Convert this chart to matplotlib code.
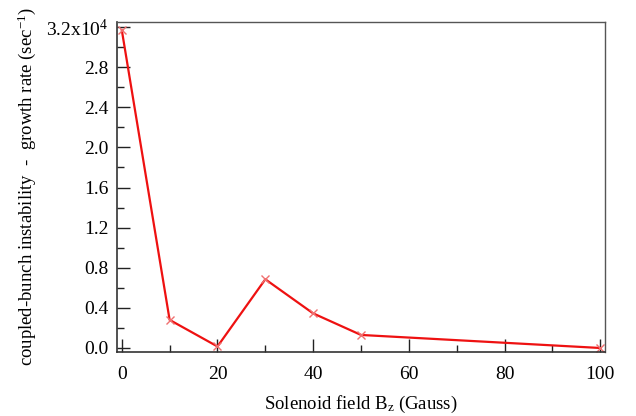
import matplotlib
matplotlib.use("Agg")
import matplotlib.pyplot as plt
from matplotlib.ticker import MultipleLocator

# data (growth rate in units of 1e4 / sec)
bz_gauss = [0, 10, 20, 30, 40, 50, 100]
growth_rate = [3.17, 0.28, 0.015, 0.685, 0.345, 0.13, 0.0]
ytick_vals = [0.0, 0.4, 0.8, 1.2, 1.6, 2.0, 2.4, 2.8, 3.2]
ytick_labels = ["0.0", "0.4", "0.8", "1.2", "1.6", "2.0", "2.4", "2.8", r"3.2x10$^{4}$"]

plt.rcParams['font.family'] = ['Liberation Serif', 'DejaVu Serif']
plt.rcParams['mathtext.fontset'] = 'custom'
plt.rcParams['mathtext.rm'] = 'Liberation Serif'
plt.rcParams['mathtext.it'] = 'Liberation Serif'

fig = plt.figure(figsize=(6.36, 4.16), dpi=100)
ax = fig.add_axes([117/636, 1 - 352/416, (605 - 117)/636, (352 - 22)/416])

ax.plot(bz_gauss, growth_rate, '-', color='#ee1111', linewidth=1.6)
ax.plot(bz_gauss, growth_rate, 'x', color='#f07070', markersize=6, markeredgewidth=1.0)

ax.set_xlim(-1, 101)
ax.set_ylim(-0.04, 3.25)
ax.set_xticks([0, 20, 40, 60, 80, 100])
ax.xaxis.set_minor_locator(MultipleLocator(10))
ax.set_yticks(ytick_vals)
ax.set_yticklabels(ytick_labels)
ax.yaxis.set_minor_locator(MultipleLocator(0.2))

ax.tick_params(which='both', direction='in', top=False, right=False, labelsize=14, width=1.0, color='#222222')
ax.tick_params(which='major', length=9.5)
ax.tick_params(which='minor', length=5)
ax.tick_params(axis='y', pad=6)
ax.tick_params(axis='x', pad=10)

for side in ['left', 'bottom']:
    ax.spines[side].set_color('#333333')
    ax.spines[side].set_linewidth(1.2)
for side in ['top', 'right']:
    ax.spines[side].set_color('#555555')
    ax.spines[side].set_linewidth(1.0)

ax.set_xlabel(r"Solenoid field B$_{\mathrm{z}}$ (Gauss)", fontsize=13.5, labelpad=8)
ax.set_ylabel(r"coupled-bunch instability  -  growth rate (sec$^{-1}$)", fontsize=13.5, labelpad=6)

fig.savefig("out.png", dpi=100)
